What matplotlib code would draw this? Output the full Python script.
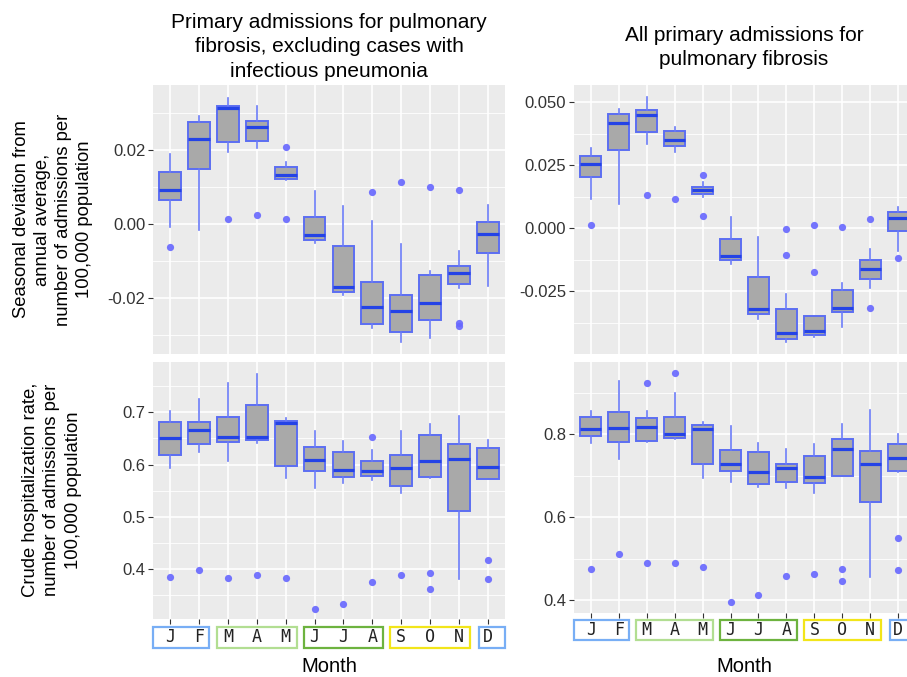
import matplotlib
matplotlib.use("Agg")
import matplotlib.pyplot as plt
import matplotlib.transforms as mtransforms
from matplotlib.patches import Rectangle

plt.rcParams['font.family'] = ['Liberation Sans', 'DejaVu Sans']

# ---------------- data ----------------
months = ['J', 'F', 'M', 'A', 'M', 'J', 'J', 'A', 'S', 'O', 'N', 'D']
positions = list(range(1, 13))

title_left = "Primary admissions for pulmonary\nfibrosis, excluding cases with\ninfectious pneumonia"
title_right = "All primary admissions for\npulmonary fibrosis"
ylabel_top = "Seasonal deviation from\nannual average,\nnumber of admissions per\n100,000 population"
ylabel_bottom = "Crude hospitalization rate,\nnumber of admissions per\n100,000 population"
xlabel = "Month"

# top-left: seasonal deviation, excluding infectious pneumonia
tl_whislo = [-0.0007, -0.0016, 0.0195, 0.0204, 0.0118, -0.0052, -0.0191, -0.0281, -0.0317, -0.0308, -0.0173, -0.0167]
tl_q1 = [0.0065, 0.0147, 0.0220, 0.0224, 0.0120, -0.0042, -0.0184, -0.0270, -0.0290, -0.0259, -0.0162, -0.0077]
tl_med = [0.0092, 0.0230, 0.0314, 0.0261, 0.0133, -0.0029, -0.0169, -0.0223, -0.0235, -0.0214, -0.0131, -0.0027]
tl_q3 = [0.0141, 0.0276, 0.0318, 0.0279, 0.0153, 0.0019, -0.0058, -0.0155, -0.0191, -0.0137, -0.0113, 0.0006]
tl_whishi = [0.0189, 0.0292, 0.0341, 0.0319, 0.0168, 0.0089, 0.0049, 0.0007, -0.0053, -0.0126, -0.0072, 0.0050]
tl_fliers = [[-0.0063], [], [0.0013], [0.0024], [0.0208, 0.0013], [], [], [0.0086], [0.0113], [0.0101],
             [0.0092, -0.0268, -0.0274], []]

# top-right: seasonal deviation, all admissions
tr_whislo = [0.0116, 0.0096, 0.0333, 0.0303, 0.0123, -0.0143, -0.0361, -0.0452, -0.0433, -0.0390, -0.0237, -0.0090]
tr_q1 = [0.0205, 0.0309, 0.0381, 0.0328, 0.0136, -0.0126, -0.0340, -0.0438, -0.0425, -0.0332, -0.0200, -0.0009]
tr_med = [0.0255, 0.0419, 0.0451, 0.0349, 0.0151, -0.0110, -0.0321, -0.0417, -0.0408, -0.0315, -0.0163, 0.0042]
tr_q3 = [0.0286, 0.0452, 0.0468, 0.0387, 0.0165, -0.0044, -0.0195, -0.0319, -0.0348, -0.0244, -0.0127, 0.0065]
tr_whishi = [0.0320, 0.0473, 0.0520, 0.0401, 0.0185, 0.0046, -0.0033, -0.0262, -0.0348, -0.0216, -0.0082, 0.0083]
tr_fliers = [[0.0014], [], [0.0132], [0.0115], [0.0213, 0.0049], [], [], [-0.0001, -0.0105], [0.0014, -0.0173],
             [0.0006], [0.0037, -0.0316], [-0.0117]]

# bottom-left: crude rate, excluding infectious pneumonia
bl_whislo = [0.594, 0.625, 0.606, 0.641, 0.574, 0.555, 0.565, 0.571, 0.546, 0.574, 0.381, 0.573]
bl_q1 = [0.619, 0.639, 0.643, 0.647, 0.597, 0.588, 0.577, 0.579, 0.560, 0.576, 0.511, 0.573]
bl_med = [0.650, 0.667, 0.653, 0.653, 0.679, 0.609, 0.590, 0.588, 0.594, 0.606, 0.610, 0.596]
bl_q3 = [0.682, 0.682, 0.691, 0.714, 0.683, 0.633, 0.625, 0.607, 0.618, 0.656, 0.640, 0.632]
bl_whishi = [0.703, 0.726, 0.757, 0.773, 0.689, 0.664, 0.645, 0.628, 0.664, 0.677, 0.693, 0.647]
bl_fliers = [[0.386], [0.398], [0.383], [0.389], [0.383], [0.324], [0.333], [0.652, 0.376], [0.389],
             [0.393, 0.362], [], [0.418, 0.381]]

# bottom-right: crude rate, all admissions
br_whislo = [0.778, 0.739, 0.780, 0.787, 0.695, 0.684, 0.672, 0.669, 0.657, 0.700, 0.455, 0.708]
br_q1 = [0.794, 0.781, 0.783, 0.790, 0.728, 0.710, 0.680, 0.685, 0.683, 0.700, 0.635, 0.710]
br_med = [0.811, 0.814, 0.818, 0.800, 0.813, 0.728, 0.709, 0.718, 0.696, 0.765, 0.728, 0.743]
br_q3 = [0.840, 0.852, 0.838, 0.841, 0.822, 0.762, 0.756, 0.728, 0.748, 0.789, 0.759, 0.775]
br_whishi = [0.856, 0.928, 0.855, 0.898, 0.829, 0.819, 0.779, 0.765, 0.776, 0.823, 0.858, 0.800]
br_fliers = [[0.475], [0.512], [0.922, 0.489], [0.947, 0.488], [0.480], [0.396], [0.413], [0.457], [0.462],
             [0.474, 0.445], [], [0.549, 0.473]]

# season groups (first month index, last month index, colour)
season_groups = [(1, 2, '#78AEF5'), (3, 5, '#B2DE92'), (6, 8, '#6DB33F'), (9, 11, '#F2E51A'), (12, 12, '#78AEF5')]

# ---------------- styling ----------------
W, H = 907, 677
BG = '#EBEBEB'
BOX_FACE = '#A9A9A9'
BOX_EDGE = '#5C6EF2'
WHISK = '#6A7BF7'
MED = '#2443E6'
FLIER = '#6666FF'
TICK_COL = '#333333'

fig = plt.figure(figsize=(W / 100, H / 100), dpi=100)


def px_axes(l, t, r, b):
    return fig.add_axes([l / W, 1 - b / H, (r - l) / W, (b - t) / H])


def make_stats(whislo, q1, med, q3, whishi, fliers):
    return [dict(whislo=whislo[i], q1=q1[i], med=med[i], q3=q3[i], whishi=whishi[i], fliers=fliers[i])
            for i in range(len(med))]


def draw(ax, stats, ylim, major, minor, fmt, bottom):
    ax.set_facecolor(BG)
    ax.bxp(stats, positions=positions, widths=0.75, patch_artist=True, showcaps=False,
           boxprops=dict(facecolor=BOX_FACE, edgecolor=BOX_EDGE, linewidth=1.4),
           medianprops=dict(color=MED, linewidth=2.3, solid_capstyle='butt'),
           whiskerprops=dict(color=WHISK, linewidth=1.2),
           flierprops=dict(marker='o', markerfacecolor=FLIER, markeredgecolor='none',
                           markersize=5.2, alpha=0.9))
    ax.set_xlim(0.4, 12.6)
    ax.set_ylim(*ylim)
    ax.set_xticks(positions)
    ax.set_yticks(major)
    ax.set_yticks(minor, minor=True)
    ax.set_yticklabels([fmt.format(v) for v in major])
    ax.set_axisbelow(True)
    ax.grid(which='major', color='white', linewidth=1.2)
    ax.grid(which='minor', axis='y', color='white', linewidth=0.6)
    for s in ax.spines.values():
        s.set_visible(False)
    ax.tick_params(axis='y', which='major', length=3.5, width=0.8, color=TICK_COL,
                   labelsize=12, labelcolor=TICK_COL, pad=2)
    ax.tick_params(axis='y', which='minor', length=0)
    ax.set_xticklabels([])
    if bottom:
        ax.tick_params(axis='x', length=3.5, width=0.8, color=TICK_COL)
    else:
        ax.tick_params(axis='x', length=0)


def month_boxes(ax, top_off, bot_off):
    trans = mtransforms.blended_transform_factory(ax.transData, ax.transAxes)
    hpx = ax.get_position().height * H
    y0 = -bot_off / hpx
    hh = (bot_off - top_off) / hpx
    ymid = -(top_off + bot_off) / 2 / hpx
    for a, b, c in season_groups:
        x0 = a - 0.38
        x1 = b + 0.38
        if a == 1:
            x0, x1 = a - 0.59, b + 0.35
        if a == 12:
            x0, x1 = a - 0.31, b + 0.59
        ax.add_patch(Rectangle((x0, y0), x1 - x0, hh, transform=trans, clip_on=False,
                               facecolor='white', edgecolor=c, linewidth=1.6))
    for i, m in enumerate(months):
        ax.text(positions[i], ymid, m, transform=trans, ha='center', va='center',
                fontsize=12, family='DejaVu Sans Mono', color='#222222', clip_on=False)


ax_tl = px_axes(153, 85, 505, 354)
ax_tr = px_axes(574, 85, 915, 354)
ax_bl = px_axes(153, 362, 505, 619)
ax_br = px_axes(574, 362, 915, 613)

draw(ax_tl, make_stats(tl_whislo, tl_q1, tl_med, tl_q3, tl_whishi, tl_fliers),
     (-0.03504, 0.03747), [-0.02, 0.0, 0.02], [-0.03, -0.01, 0.01, 0.03], '{:.2f}', False)
draw(ax_tr, make_stats(tr_whislo, tr_q1, tr_med, tr_q3, tr_whishi, tr_fliers),
     (-0.04988, 0.05687), [-0.025, 0.0, 0.025, 0.05], [-0.0375, -0.0125, 0.0125, 0.0375], '{:.3f}', False)
draw(ax_bl, make_stats(bl_whislo, bl_q1, bl_med, bl_q3, bl_whishi, bl_fliers),
     (0.3048, 0.7962), [0.4, 0.5, 0.6, 0.7], [0.35, 0.45, 0.55, 0.65, 0.75], '{:.1f}', True)
draw(ax_br, make_stats(br_whislo, br_q1, br_med, br_q3, br_whishi, br_fliers),
     (0.3687, 0.9735), [0.4, 0.6, 0.8], [0.5, 0.7, 0.9], '{:.1f}', True)

month_boxes(ax_bl, 8, 29)
month_boxes(ax_br, 7, 27)

fig.text(329 / W, 1 - 47 / H, title_left, ha='center', va='center', fontsize=15,
         multialignment='center', linespacing=1.34)
fig.text(744 / W, 1 - 47.5 / H, title_right, ha='center', va='center', fontsize=15,
         multialignment='center', linespacing=1.34)
fig.text(53 / W, 1 - 219.5 / H, ylabel_top, ha='center', va='center', rotation=90, fontsize=13.3,
         multialignment='center', linespacing=1.32)
fig.text(52 / W, 1 - 490 / H, ylabel_bottom, ha='center', va='center', rotation=90, fontsize=13.3,
         multialignment='center', linespacing=1.32)
fig.text(329 / W, 1 - 667 / H, xlabel, ha='center', va='center', fontsize=14.5)
fig.text(744 / W, 1 - 667 / H, xlabel, ha='center', va='center', fontsize=14.5)

fig.savefig('out.png', dpi=100, facecolor='white')
